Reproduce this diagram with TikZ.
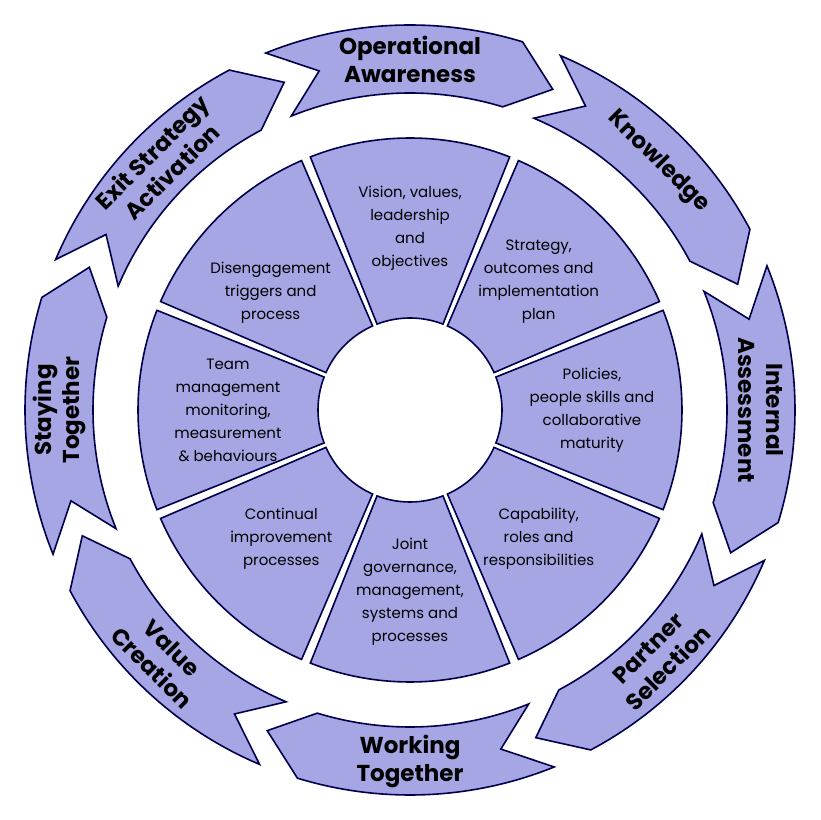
\documentclass[tikz,border=0pt]{standalone}
\usepackage{fontspec}
\setmainfont{Poppins}
\begin{document}
\begin{tikzpicture}[x=1pt,y=1pt,
  segment/.style={draw=blue!30!black,line width=1.6pt,fill=blue!55!gray!45},
  innertext/.style={align=center,font=\fontsize{15}{23}\selectfont},
  outertext/.style={align=center,font=\fontsize{23}{28}\selectfont\bfseries}]
\useasboundingbox (0,0) rectangle (820,820);
\coordinate (c) at (410,410);

% inner wheel
\foreach \ang/\tang/\txt [count=\i] in {90/90/{Vision, values,\\leadership\\and\\objectives},
    45/45/{Strategy,\\outcomes and\\implementation\\plan},
    0/0/{Policies,\\people skills and\\collaborative\\maturity},
    -45/-45/{Capability,\\roles and\\responsibilities},
    -90/-90/{Joint\\governance,\\management,\\systems and\\processes},
    -135/-135/{Continual\\improvement\\processes},
    180/180/{Team\\management\\monitoring,\\measurement\\\& behaviours},
    135/140/{Disengagement\\triggers and\\process}}{
  \draw[segment] ([shift={(\ang-21:92)}]c) arc (\ang-21:\ang+21:92)
    -- ([shift={(\ang+21.5:272)}]c) arc (\ang+21.5:\ang-21.5:272) -- cycle;
  \node[innertext] (sec\i) at ([shift={(\tang:182)}]c) {\txt};
}

% outer ring of arrows
\foreach \ang/\txt/\rot [count=\i] in {90/{Operational\\Awareness}/0,
    45/{Knowledge}/-45,
    0/{Internal\\Assessment}/-90,
    -45/{Partner\\Selection}/45,
    -90/{Working\\Together}/0,
    -135/{Value\\Creation}/-45,
    180/{Staying\\Together}/90,
    135/{Exit Strategy\\Activation}/45}{
  \draw[segment] ([shift={(\ang+22:385)}]c) arc (\ang+22:\ang-17:385)
    -- ([shift={(\ang-24:351)}]c) -- ([shift={(\ang-17:317)}]c)
    arc (\ang-17:\ang+22:317) -- ([shift={(\ang+15:351)}]c) -- cycle;
  \node[outertext,rotate=\rot] (arr\i) at ([shift={(\ang:351)}]c) {\txt};
}
\end{tikzpicture}
\end{document}
